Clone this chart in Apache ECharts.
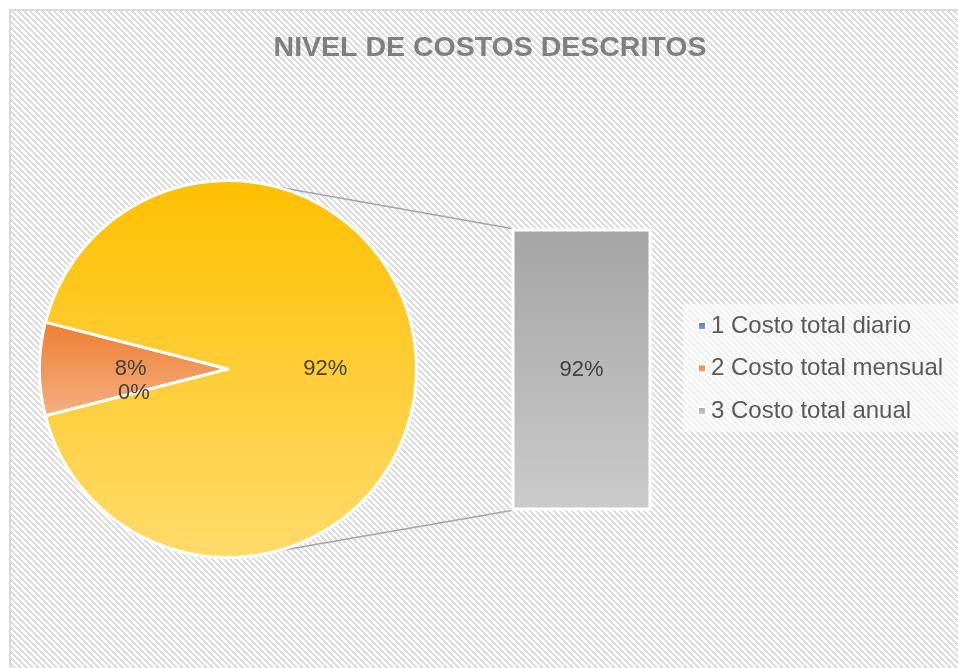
<!DOCTYPE html>
<html>
<head>
<meta charset="utf-8">
<script src="https://cdn.jsdelivr.net/npm/echarts@6/dist/echarts.min.js"></script>
<style>
  html, body { margin: 0; padding: 0; background: #ffffff; }
  #chart { width: 958px; height: 668px; }
</style>
</head>
<body>
<div id="chart"></div>
<script>
// Cost breakdown: pie of the main share plus a bar that expands the "other" slice
const legendNames = ['1 Costo total diario', '2 Costo total mensual', '3 Costo total anual'];
const pieNames = ['1 Costo total diario', '2 Costo total mensual', 'Otro'];
const pieValues = [0, 8, 92];
const barCategories = ['3 Costo total anual'];
const barValues = [92];

const FONT = '"Liberation Sans", Arial, sans-serif';

// Diagonal hatch tile used as the chart-area fill
function makeHatch() {
  const size = 6;
  const c = document.createElement('canvas');
  c.width = size; c.height = size;
  const ctx = c.getContext('2d');
  ctx.fillStyle = '#ffffff';
  ctx.fillRect(0, 0, size, size);
  ctx.fillStyle = '#dedede';
  for (let y = 0; y < size; y++) {
    for (let x = 0; x < size; x++) {
      const k = ((x - y) % size + size) % size;
      if (k < 3) ctx.fillRect(x, y, 1, 1);
    }
  }
  return c;
}

function vGrad(top, bottom) {
  return {
    type: 'linear', x: 0, y: 0, x2: 0, y2: 1,
    colorStops: [{ offset: 0, color: top }, { offset: 1, color: bottom }]
  };
}

const pieColors = [vGrad('#4472C4', '#8FAADC'), vGrad('#ED7D31', '#F4B183'), vGrad('#FFC000', '#FFDB6B')];
const legendColors = [vGrad('#4472C4', '#8FAADC'), vGrad('#ED7D31', '#F4B183'), vGrad('#A5A5A5', '#CFCFCF')];

const pieCenter = [228, 369];
const pieRadius = 188.5;
const grid = { left: 511.5, top: 228.5, width: 140, height: 282 };

const mensualShare = pieValues[1] / pieValues.reduce((a, b) => a + b, 0);
const startAngle = 180 + mensualShare * 360 / 2;

const chart = echarts.init(document.getElementById('chart'), null, { renderer: 'canvas' });
const hatch = makeHatch();

const baseGraphics = [
  {
    type: 'rect', id: 'frame', z: -10, silent: true,
    shape: { x: 10, y: 10, width: 960, height: 680 },
    style: { fill: { image: hatch, repeat: 'repeat' }, stroke: '#d9d9d9', lineWidth: 2 }
  }
];

const option = {
  animation: false,
  title: {
    text: 'NIVEL DE COSTOS DESCRITOS',
    left: 490, top: 48, textAlign: 'center', textVerticalAlign: 'middle',
    padding: 0,
    textStyle: { fontFamily: FONT, fontSize: 28.5, fontWeight: 'bold', color: '#7f7f7f' }
  },
  legend: {
    orient: 'vertical',
    left: 683, top: 304,
    padding: [9, 40, 8, 14],
    backgroundColor: 'rgba(255,255,255,0.55)',
    itemWidth: 8, itemHeight: 8, icon: 'rect',
    itemGap: 16.5,
    selectedMode: false,
    textStyle: { fontFamily: FONT, fontSize: 24, color: '#595959', lineHeight: 26 },
    data: legendNames.map((n, i) => ({ name: n, itemStyle: { color: legendColors[i] } }))
  },
  grid: { left: grid.left, top: grid.top, width: grid.width, height: grid.height },
  xAxis: { type: 'category', data: barCategories, show: false },
  yAxis: { type: 'value', min: 0, max: barValues[0], show: false },
  graphic: baseGraphics,
  series: [
    {
      type: 'pie',
      name: 'Nivel',
      center: pieCenter,
      radius: [0, pieRadius],
      startAngle: startAngle,
      clockwise: true,
      avoidLabelOverlap: false,
      z: 3,
      itemStyle: { borderColor: '#ffffff', borderWidth: 3 },
      label: {
        show: true, position: 'inner',
        formatter: p => p.value + '%',
        fontFamily: FONT, fontSize: 22, color: '#404040'
      },
      labelLine: { show: false },
      emphasis: { disabled: true },
      data: pieNames.map((n, i) => ({ name: n, value: pieValues[i], itemStyle: { color: pieColors[i] } }))
    },
    {
      type: 'bar',
      name: '3 Costo total anual',
      data: barValues,
      barWidth: '100%',
      z: 3,
      itemStyle: { color: vGrad('#A5A5A5', '#CBCBCB'), borderColor: '#ffffff', borderWidth: 3 },
      label: {
        show: true, position: 'inside',
        formatter: p => p.value + '%',
        fontFamily: FONT, fontSize: 22, color: '#404040'
      },
      emphasis: { disabled: true }
    }
  ]
};

chart.setOption(option);

// Connector lines from the pie rim to the bar's top-left and bottom-left corners
const topY = chart.convertToPixel({ seriesIndex: 1 }, [0, barValues[0]])[1];
const botY = chart.convertToPixel({ seriesIndex: 1 }, [0, 0])[1];
const barLeft = grid.left;
const rimAngle = 75.5 * Math.PI / 180;
const rimTop = [pieCenter[0] + pieRadius * Math.cos(rimAngle), pieCenter[1] - pieRadius * Math.sin(rimAngle)];
const rimBot = [pieCenter[0] + pieRadius * Math.cos(rimAngle), pieCenter[1] + pieRadius * Math.sin(rimAngle)];

chart.setOption({
  graphic: baseGraphics.concat([
    {
      type: 'line', id: 'connTop', z: 1, silent: true,
      shape: { x1: rimTop[0], y1: rimTop[1], x2: barLeft, y2: topY },
      style: { stroke: '#a6a6a6', lineWidth: 1.5 }
    },
    {
      type: 'line', id: 'connBot', z: 1, silent: true,
      shape: { x1: rimBot[0], y1: rimBot[1], x2: barLeft, y2: botY },
      style: { stroke: '#a6a6a6', lineWidth: 1.5 }
    }
  ])
});
</script>
</body>
</html>
